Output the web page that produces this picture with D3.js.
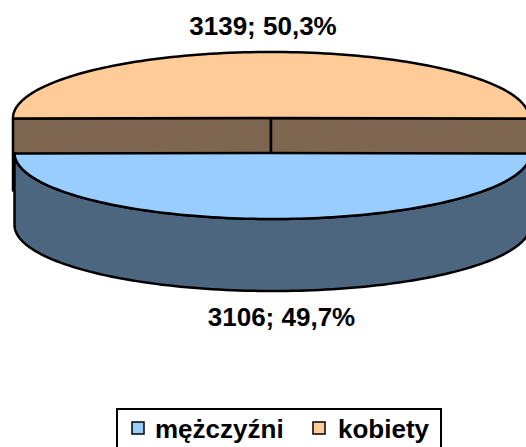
<!DOCTYPE html>
<html>
<head>
<meta charset="utf-8">
<script src="https://cdn.jsdelivr.net/npm/d3@7"></script>
<style>
  body { margin: 0; background: #fff; }
  svg text { font-family: "Liberation Sans", Arial, sans-serif; font-weight: bold; fill: #000; }
</style>
</head>
<body>
<div id="chart"></div>
<script>
// data
const categories = ["mężczyźni", "kobiety"];
const counts = [3106, 3139];
const percentLabels = ["49,7%", "50,3%"];

const topColors = ["#99CCFF", "#FFCC99"];
const sideColors = ["#4D6680", "#7F6650"];

const width = 526, height = 447;
const cx = 271, cy = 135.5;       // pie centre (before explode)
const rx = 258, ry = 66;          // ellipse radii of the tilted pie
const depth = 72;                 // thickness
const explode = 17.5;             // pull-apart distance

const svg = d3.select("#chart").append("svg")
  .attr("width", width)
  .attr("height", height);

// mężczyźni centred at the front (angle PI), kobiety at the back
const share0 = counts[0] / d3.sum(counts);
const pie = d3.pie().sort(null)
  .startAngle(Math.PI - Math.PI * share0)
  .endAngle(Math.PI - Math.PI * share0 + 2 * Math.PI);

const slices = pie(counts).map((d, i) => {
  const mid = (d.startAngle + d.endAngle) / 2;
  return Object.assign(d, {
    i: i,
    // front slice sits a touch to the right, as in the original
    ox: cx + (i === 0 ? 1.5 : 0),
    oy: cy - explode * Math.cos(mid)
  });
});

// point on the rim, angle measured clockwise from 12 o'clock
function rim(s, a, dz) {
  return [s.ox + rx * Math.sin(a), s.oy - ry * Math.cos(a) + (dz || 0)];
}

function arcPoints(s, a0, a1, dz) {
  const n = 120, pts = [];
  for (let k = 0; k <= n; k++) pts.push(rim(s, a0 + (a1 - a0) * k / n, dz));
  return pts;
}

const line = d3.line();

function topPath(s) {
  return line([[s.ox, s.oy]].concat(arcPoints(s, s.startAngle, s.endAngle))) + "Z";
}

function sidePath(s) {
  // visible outer wall: front half only (angles between PI/2 and 3PI/2)
  const a0 = Math.max(s.startAngle, Math.PI / 2);
  const a1 = Math.min(s.endAngle, 3 * Math.PI / 2);
  if (a1 <= a0) return null;
  const upper = arcPoints(s, a0, a1, 0);
  const lower = arcPoints(s, a1, a0, depth);
  return line(upper.concat(lower)) + "Z";
}

function facePath(s, a) {
  const p = rim(s, a);
  return line([[s.ox, s.oy], p, [p[0], p[1] + depth], [s.ox, s.oy + depth]]) + "Z";
}

const back = slices[1], front = slices[0];

// back slice: cut faces and top
const gBack = svg.append("g");
[back.startAngle, back.endAngle].forEach(a => {
  gBack.append("path")
    .attr("d", facePath(back, a))
    .attr("fill", sideColors[1])
    .attr("stroke", "#000")
    .attr("stroke-width", 2.5)
    .attr("stroke-linejoin", "round");
});
gBack.append("path")
  .attr("d", topPath(back))
  .attr("fill", topColors[1])
  .attr("stroke", "#000")
  .attr("stroke-width", 2.5)
  .attr("stroke-linejoin", "round");

// front slice: outer wall and top
const gFront = svg.append("g");
const sp = sidePath(front);
if (sp) {
  gFront.append("path")
    .attr("d", sp)
    .attr("fill", sideColors[0])
    .attr("stroke", "#000")
    .attr("stroke-width", 2.5)
    .attr("stroke-linejoin", "round");
}
gFront.append("path")
  .attr("d", topPath(front))
  .attr("fill", topColors[0])
  .attr("stroke", "#000")
  .attr("stroke-width", 2.5)
  .attr("stroke-linejoin", "round");

// data labels
const labelFont = 26;
svg.append("text")
  .attr("x", back.ox - 8)
  .attr("y", back.oy - ry - 17)
  .attr("text-anchor", "middle")
  .style("font-size", labelFont + "px")
  .text(counts[1] + "; " + percentLabels[1]);

svg.append("text")
  .attr("x", front.ox + 9)
  .attr("y", front.oy + ry + depth + 35)
  .attr("text-anchor", "middle")
  .style("font-size", labelFont + "px")
  .text(counts[0] + "; " + percentLabels[0]);

// legend
const legend = svg.append("g");
legend.append("rect")
  .attr("x", 117).attr("y", 409)
  .attr("width", 324).attr("height", 50)
  .attr("fill", "#fff")
  .attr("stroke", "#000")
  .attr("stroke-width", 2);

const legendX = [132, 313];
categories.forEach((c, i) => {
  legend.append("rect")
    .attr("x", legendX[i]).attr("y", 422)
    .attr("width", 12).attr("height", 12)
    .attr("fill", topColors[i])
    .attr("stroke", "#000")
    .attr("stroke-width", 1.5);
  legend.append("text")
    .attr("x", legendX[i] + (i === 0 ? 23 : 25))
    .attr("y", 438)
    .style("font-size", "26px")
    .text(c);
});
</script>
</body>
</html>
